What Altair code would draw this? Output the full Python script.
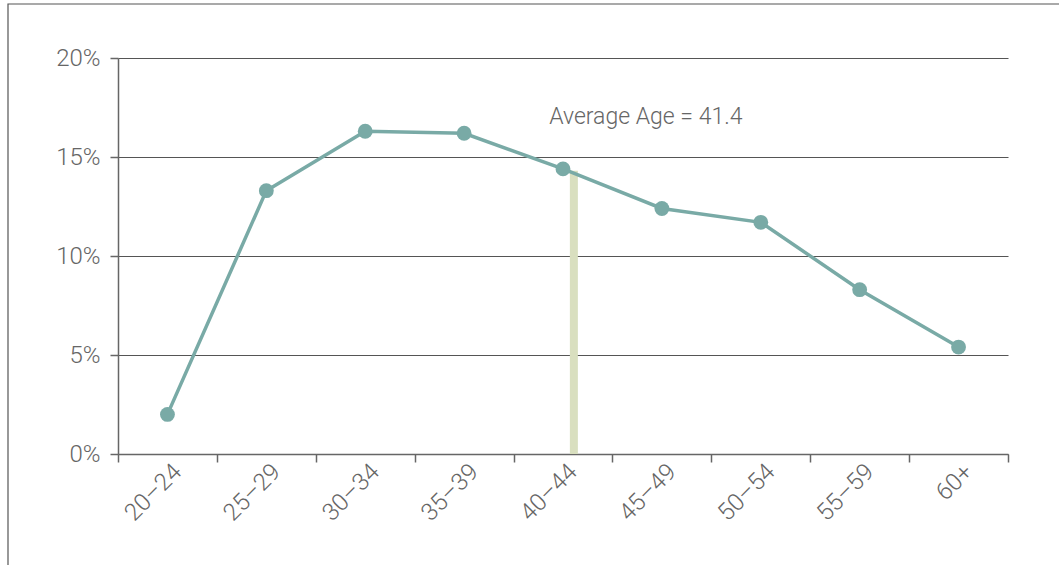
import altair as alt
import pandas as pd

ages = ["20–24", "25–29", "30–34", "35–39", "40–44", "45–49", "50–54", "55–59", "60+"]
shares = [2.0, 13.3, 16.3, 16.2, 14.4, 12.4, 11.7, 8.3, 5.4]

avg_band = ["40–44"]
avg_top = [14.3]
note_band = ["40–44"]
note_y = [17.0]
note_text = ["Average Age = 41.4"]

FONT = "Roboto"
GRAY = "#666666"
TEAL = "#79aaa6"
SAGE = "#d9dfbf"

df = pd.DataFrame({"age": ages, "share": shares})
avg_df = pd.DataFrame({"age": avg_band, "top": avg_top, "bottom": [0] * len(avg_band)})
note_df = pd.DataFrame({"age": note_band, "y": note_y, "label": note_text})

xscale = alt.Scale(type="band", domain=ages, paddingInner=0, paddingOuter=0)
yscale = alt.Scale(domain=[0, 20])

x_axis = alt.Axis(
    title=None, tickBand="extent", labelAngle=-45, labelAlign="right",
    labelBaseline="middle", grid=False, labelPadding=6, labelOffset=10,
)
y_axis = alt.Axis(
    title=None, values=[0, 5, 10, 15, 20], labelExpr="datum.value + '%'",
    grid=True, labelPadding=10,
)

frame = alt.Chart(pd.DataFrame({"k": [0]})).mark_rect(
    filled=False, stroke="#555555", strokeWidth=1.2, clip=False
).encode(
    x=alt.value(-110), x2=alt.value(1200), y=alt.value(-54), y2=alt.value(700)
)

bar = alt.Chart(avg_df).mark_rule(color=SAGE, strokeWidth=8).encode(
    x=alt.X("age:N", scale=xscale, axis=x_axis, bandPosition=0.61),
    y=alt.Y("top:Q", scale=yscale, axis=y_axis),
    y2="bottom:Q",
)

line = alt.Chart(df).mark_line(color=TEAL, strokeWidth=3.5).encode(
    x=alt.X("age:N", scale=xscale, axis=x_axis, sort=ages),
    y=alt.Y("share:Q", scale=yscale, axis=y_axis),
)

pts = alt.Chart(df).mark_circle(color=TEAL, size=220, opacity=1).encode(
    x=alt.X("age:N", scale=xscale, axis=x_axis, sort=ages),
    y=alt.Y("share:Q", scale=yscale, axis=y_axis),
)

note = alt.Chart(note_df).mark_text(
    align="left", baseline="middle", font=FONT, fontSize=23, fontWeight=300, color=GRAY
).encode(
    x=alt.X("age:N", scale=xscale, axis=x_axis, bandPosition=0.36),
    y=alt.Y("y:Q", scale=yscale, axis=y_axis),
    text="label:N",
)

chart = alt.layer(frame, bar, line, pts, note).properties(
    width=890, height=396,
    autosize=alt.AutoSizeParams(type="none"),
    padding={"left": 118, "top": 58, "right": 51, "bottom": 111},
).configure_view(stroke=None).configure_axis(
    labelFont=FONT, labelFontSize=24, labelFontWeight=300, labelColor=GRAY,
    domainColor=GRAY, domainWidth=1.5, tickColor=GRAY, tickWidth=1.5, tickSize=8,
    gridColor="#555555", gridWidth=1.2,
)

chart.save("out.html", embed_options={"renderer": "svg", "actions": False})
